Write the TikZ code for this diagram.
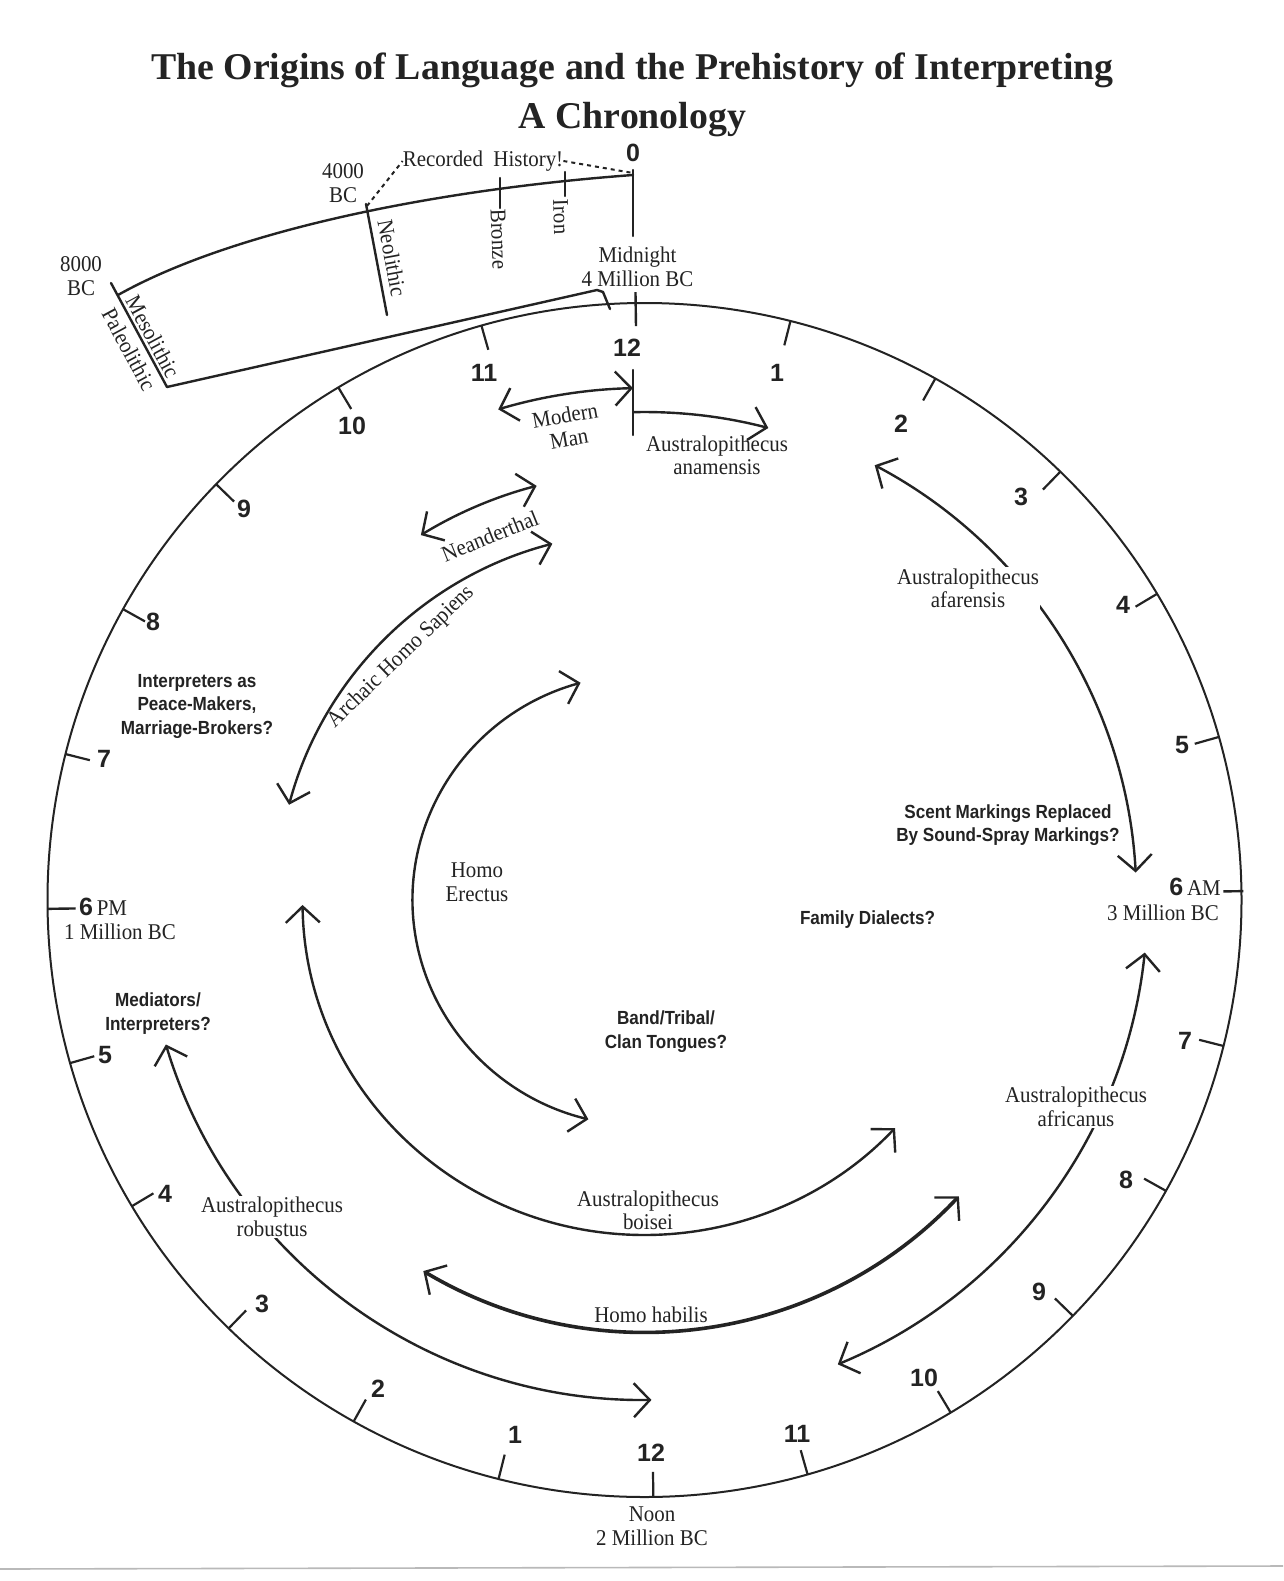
\documentclass[tikz,border=0pt]{standalone}
\usepackage{fontspec}
\setmainfont{Liberation Serif}
\newfontfamily\labf[FakeStretch=0.93]{Liberation Serif}
\newfontfamily\sansf[FakeStretch=0.9]{Liberation Sans Bold}
\newfontfamily\numf{Liberation Sans Bold}
\newfontfamily\titlef{Liberation Serif Bold}
\usetikzlibrary{arrows.meta}
\definecolor{ink}{RGB}{35,35,35}
\begin{document}
\begin{tikzpicture}[x=1pt,y=1pt,
  every node/.style={inner sep=0pt, text=ink},
  ser/.style={font=\labf\fontsize{22.5}{23.5}\selectfont, align=center},
  sb/.style={font=\sansf\fontsize{19}{23.5}\selectfont, align=center},
  num/.style={font=\numf\fontsize{25}{25}\selectfont},
  ttl/.style={font=\titlef\fontsize{37.8}{45}\selectfont},
  span/.style={draw=ink, line width=2.4pt, line cap=round},
  tline/.style={draw=ink, line width=2.4pt, line cap=round, line join=round},
  knock/.style={fill=white, inner sep=1.5pt},
  >={Straight Barb[length=16pt,width=34pt,line width=2.4pt]}
]
\useasboundingbox (0,0) rectangle (1283,-1581);
\fill[white] (0,0) rectangle (1283,-1581);

% title
\node[ttl, anchor=base] (title1) at (632.5,-80) {The Origins of Language and the Prehistory of Interpreting};
\node[ttl, anchor=base] (title2) at (632.5,-129) {A Chronology};

% ---------- clock ----------
\begin{scope}[shift={(644.5,-900)}]
  \draw[draw=ink, line width=2pt] (0,0) circle[radius=597];
  \foreach \h in {1,2,3,4,5,7,8,9,10,11,12,13,14,15,16,17,19,20,21,22,23}{
    \draw[draw=ink, line width=2.2pt] ({90.85-15*\h}:597) -- ({90.85-15*\h}:572);
  }
  \draw[draw=ink, line width=2.4pt] (0.85:599) -- (0.85:579);
  \draw[draw=ink, line width=2.4pt] (-179.15:597) -- (-179.15:569);
  \draw[draw=ink, line width=2.4pt] (90.85:608) -- (90.85:574);

  % spans
  \draw[span,<->] (106.6:512) arc[start angle=106.6, end angle=91.3, radius=512];
  \draw[span,->] (91.3:488) arc[start angle=91.3, end angle=75.3, radius=488];
  \draw[span,<->] (121.5:428) arc[start angle=121.5, end angle=104.6, radius=428];
  \draw[span,<->] (165:368) arc[start angle=165, end angle=104.5, radius=368];
  \draw[span,<->] (106:232 and 226) arc[start angle=106, end angle=256, x radius=232, y radius=226];
  \draw[span,<->] (180.85:342 and 335) arc[start angle=180.85, end angle=317.1, x radius=342, y radius=335];
  \draw[span,<->,line width=3.6pt] (-120.8:432) arc[start angle=-120.8, end angle=-43.3, radius=432];
  \draw[span,<->] (-163.2:500) arc[start angle=-163.2, end angle=-89.2, radius=500];
  \draw[span,<->] (-6:503) arc[start angle=-6, end angle=-67.4, radius=503];
  \draw[span,<->] (62.1:492) arc[start angle=62.1, end angle=3.2, radius=492];
\end{scope}

% vertical line at the top "12" between Modern Man and anamensis
\draw[tline] (633,-370) -- (633,-435);

% hour numbers
\node[num] (m12) at (627,-348) {12};
\node[num] (a1) at (777,-373) {1};
\node[num] (a2) at (901,-424) {2};
\node[num] (a3) at (1021,-497) {3};
\node[num] (a4) at (1123,-605) {4};
\node[num] (a5) at (1182,-745) {5};
\node[num] (a7) at (1185,-1041) {7};
\node[num] (a8) at (1126,-1180) {8};
\node[num] (a9) at (1039,-1292) {9};
\node[num] (a10) at (924,-1378) {10};
\node[num] (a11) at (797,-1434) {11};
\node[num] (n12) at (651,-1453) {12};
\node[num] (p1) at (515,-1435) {1};
\node[num] (p2) at (378,-1389) {2};
\node[num] (p3) at (262,-1304) {3};
\node[num] (p4) at (165,-1194) {4};
\node[num] (p5) at (105,-1055) {5};
\node[num] (p7) at (104,-759) {7};
\node[num] (p8) at (153,-622) {8};
\node[num] (p9) at (244,-509) {9};
\node[num] (p10) at (352,-426) {10};
\node[num] (p11) at (484,-373) {11};

% 6 AM / 6 PM / noon / midnight
\node[anchor=base east, font=\labf\fontsize{22.5}{23.5}\selectfont] (am6) at (1221,-895) {{\numf\fontsize{25}{25}\selectfont 6}\,AM};
\node[ser] (mbc3) at (1163,-913) {3 Million BC};
\node[anchor=base west, font=\labf\fontsize{22.5}{23.5}\selectfont] (pm6) at (79,-915) {{\numf\fontsize{25}{25}\selectfont 6}\,PM};
\node[ser] (mbc1) at (120,-932) {1 Million BC};
\node[ser] (noon) at (652,-1526) {Noon\\2 Million BC};
\node[ser] (midnight) at (637.5,-267) {Midnight\\4 Million BC};

% span labels
\node[ser, rotate=10] (modern) at (567,-427) {Modern\\Man};
\node[ser] (anam) at (717,-455.5) {Australopithecus\\anamensis};
\node[ser, rotate=22] (neand) at (490,-536) {Neanderthal};
\node[ser, rotate=44] (archaic) at (401,-657) {Archaic Homo Sapiens};
\node[ser] (erectus) at (477,-882) {Homo\\Erectus};
\node[ser, knock] (afar) at (968,-588.5) {Australopithecus\\afarensis};
\node[ser, knock] (afric) at (1076,-1107) {Australopithecus\\africanus};
\node[ser, knock] (robust) at (272,-1217) {Australopithecus\\robustus};
\node[ser] (boisei) at (648,-1210.5) {Australopithecus\\boisei};
\node[ser] (habilis) at (651,-1315) {Homo habilis};

% bold notes
\node[sb] (interp) at (197,-706) {Interpreters as\\Peace-Makers,\\Marriage-Brokers?};
\node[sb] (scent) at (1008,-825) {Scent Markings Replaced\\By Sound-Spray Markings?};
\node[sb] (family) at (867.5,-920) {Family Dialects?};
\node[sb] (band) at (666,-1031.5) {Band/Tribal/\\Clan Tongues?};
\node[sb] (medi) at (158,-1013.5) {Mediators/\\Interpreters?};

% ---------- timeline band ----------
\draw[tline] (111,-283) -- (167,-387);
\draw[tline] (118,-295) .. controls (230,-232) and (430,-190) .. (633,-175);
\draw[tline] (167,-387) -- (597,-290) -- (603,-292) -- (610,-309);
\draw[tline] (633,-170) -- (633,-236);
\draw[tline] (366,-204) -- (387,-315);
\draw[tline] (500,-178) -- (500,-208);
\draw[tline] (565,-172) -- (565,-196);

\node[num] (zero) at (633,-153) {0};
\node[ser] (bc8000) at (81,-276) {8000\\BC};
\node[ser] (bc4000) at (343,-183) {4000\\BC};
\node[ser] (recorded) at (483,-161) {Recorded\ \ History!};
\node[ser, rotate=-79.5] (neol) at (392,-258) {Neolithic};
\node[ser, rotate=-88] (bronze) at (499,-239) {Bronze};
\node[ser, rotate=-88] (iron) at (561,-217) {Iron};
\node[ser, rotate=-61.7, font=\labf\fontsize{22.5}{27}\selectfont] (mesopaleo) at (141,-343) {Mesolithic\\Paleolithic};

\coordinate (dA) at (367,-206);
\coordinate (dB) at (633,-173);
\draw[draw=ink, line width=2pt, dash pattern=on 4pt off 4pt] (dA) -- (recorded.west);
\draw[draw=ink, line width=2pt, dash pattern=on 4pt off 4pt] (recorded.east) -- (dB);

% scan edge
\draw[gray!55, line width=1.6pt] (0,-1569) -- (1283,-1566);
\end{tikzpicture}
\end{document}
